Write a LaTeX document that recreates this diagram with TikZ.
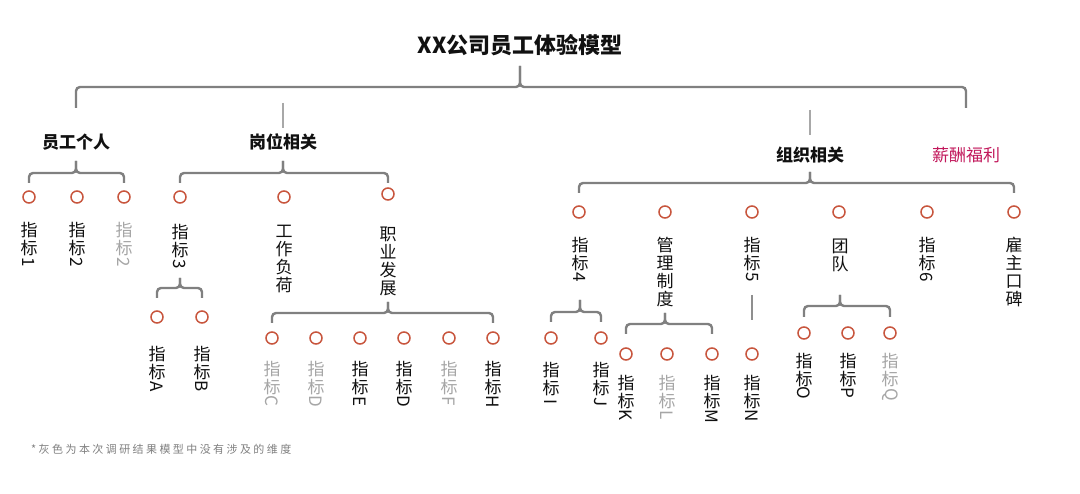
\documentclass[tikz,border=0pt]{standalone}
\usepackage{fontspec}
\usepackage{graphicx}
\setmainfont{Noto Sans CJK SC}
\newfontfamily\notefont[LetterSpace=22]{Noto Sans CJK SC}
\definecolor{circ}{HTML}{C8553D}
\definecolor{brgray}{HTML}{808080}
\definecolor{ltgray}{HTML}{A8A8A8}
\definecolor{txtgray}{HTML}{A6A6A6}
\definecolor{pay}{HTML}{C2185B}
\definecolor{ink}{HTML}{111111}
\newcommand{\rl}[1]{\raisebox{4pt}{\rotatebox[origin=c]{-90}{#1}}}
\newcommand{\zb}[1]{指\\标\\\rl{#1}}
\newcommand{\mybrace}[6]{%
  \draw[brace] (#2 |- 0,#6) |- (#1 |- 0,#4) -- (#1 |- 0,#5);
  \draw[brace] (#3 |- 0,#6) |- (#1 |- 0,#4) -- (#1 |- 0,#5);}
\tikzset{
  dot/.style={circle, draw=circ, line width=1.5pt, fill=white, minimum size=12pt, inner sep=0pt},
  brace/.style={draw=brgray, line width=2.4pt, rounded corners=4pt},
  head/.style={font=\fontsize{17}{20}\selectfont\bfseries, text=ink, inner sep=0pt},
  vlab/.style={font=\fontsize{17}{18}\selectfont, align=center, anchor=north, inner sep=0pt, text=ink},
  glab/.style={vlab, text=txtgray},
  sep/.style={draw=ltgray, line width=2.6pt},
}
\begin{document}
\begin{tikzpicture}[x=1pt,y=-1pt]
\fill[white] (0,0) rectangle (1080,494);
\useasboundingbox (0,0) rectangle (1080,494);

% title and headings
\node[font=\fontsize{22}{24}\selectfont\bfseries, text=ink, inner sep=0pt] (title) at (520,45) {XX公司员工体验模型};
\node[head] (hd1) at (76,142) {员工个人};
\node[head] (hd2) at (283,142) {岗位相关};
\node[head] (hd3) at (810,155) {组织相关};
\node[head, font=\fontsize{17}{20}\selectfont, text=pay] (hd4) at (966,155) {薪酬福利};

\mybrace{title}{hd1}{hd4}{87}{66}{108}
\draw[sep] (hd2 |- 0,103) -- (hd2 |- 0,128);
\draw[sep] (hd3 |- 0,110) -- (hd3 |- 0,135);

% level 2 circles
\node[dot] (a1) at (29,197) {};
\node[dot] (a2) at (77,197) {};
\node[dot] (a3) at (124,197) {};
\node[dot] (b1) at (180,197) {};
\node[dot] (b2) at (284,197) {};
\node[dot] (b3) at (388,194) {};
\node[dot] (d1) at (579,212) {};
\node[dot] (d2) at (665,212) {};
\node[dot] (d3) at (752,212) {};
\node[dot] (d4) at (839,212) {};
\node[dot] (d5) at (927,212) {};
\node[dot] (d6) at (1014,212) {};

\mybrace{hd1}{a1}{a3}{173}{161}{183}
\mybrace{hd2}{b1}{b3}{173}{161}{183}
\mybrace{hd3}{d1}{d6}{183}{172}{193}

% level 2 labels
\node[vlab] (la1) at (29,222) {\zb{1}};
\node[vlab] (la2) at (77,222) {\zb{2}};
\node[glab] (la3) at (124,222) {\zb{2}};
\node[vlab] (lb1) at (180,224) {\zb{3}};
\node[vlab] (lb2) at (284,225) {工\\作\\负\\荷};
\node[vlab] (lb3) at (388,227) {职\\业\\发\\展};
\node[vlab] (ld1) at (580,237) {\zb{4}};
\node[vlab] (ld2) at (665,237) {管\\理\\制\\度};
\node[vlab] (ld3) at (752,237) {\zb{5}};
\node[vlab] (ld4) at (840,239) {团\\队};
\node[vlab] (ld5) at (927,237) {\zb{6}};
\node[vlab] (ld6) at (1014,237) {雇\\主\\口\\碑};

% level 3 circles
\node[dot] (e1) at (157,317) {};
\node[dot] (e2) at (202,317) {};
\node[dot] (f1) at (272,338) {};
\node[dot] (f2) at (316,338) {};
\node[dot] (f3) at (360,338) {};
\node[dot] (f4) at (404,338) {};
\node[dot] (f5) at (449,338) {};
\node[dot] (f6) at (493,338) {};
\node[dot] (g1) at (551,338) {};
\node[dot] (g2) at (601,338) {};
\node[dot] (k1) at (626,354) {};
\node[dot] (k2) at (667,354) {};
\node[dot] (k3) at (712,354) {};
\node[dot] (n1) at (752,354) {};
\node[dot] (o1) at (804,333) {};
\node[dot] (o2) at (848,333) {};
\node[dot] (o3) at (890,333) {};

\mybrace{lb1}{e1}{e2}{288}{278}{298}
\mybrace{lb3}{f1}{f6}{313}{302}{323}
\mybrace{ld1}{g1}{g2}{312}{300}{322}
\mybrace{ld2}{k1}{k3}{324}{313}{334}
\draw[brace, draw=ltgray!85!black] (n1 |- 0,295) -- (n1 |- 0,320);
\mybrace{ld4}{o1}{o3}{306}{295}{317}

% level 3 labels
\node[vlab] (le1) at (157,346) {\zb{A}};
\node[vlab] (le2) at (202,346) {\zb{B}};
\node[glab] (lf1) at (272,361) {\zb{C}};
\node[glab] (lf2) at (316,361) {\zb{D}};
\node[vlab] (lf3) at (360,361) {\zb{E}};
\node[vlab] (lf4) at (404,361) {\zb{D}};
\node[glab] (lf5) at (449,361) {\zb{F}};
\node[vlab] (lf6) at (493,361) {\zb{H}};
\node[vlab] (lg1) at (551,362) {\zb{I}};
\node[vlab] (lg2) at (601,362) {\zb{J}};
\node[vlab] (lk1) at (626,375) {\zb{K}};
\node[glab] (lk2) at (667,375) {\zb{L}};
\node[vlab] (lk3) at (712,375) {\zb{M}};
\node[vlab] (ln1) at (752,375) {\zb{N}};
\node[vlab] (lo1) at (804,353) {\zb{O}};
\node[vlab] (lo2) at (848,353) {\zb{P}};
\node[glab] (lo3) at (890,353) {\zb{Q}};

% footnote
\node[anchor=west, font=\notefont\fontsize{11}{12}\selectfont, text=black!50, inner sep=0pt] (note) at (31,449) {*灰色为本次调研结果模型中没有涉及的维度};
\end{tikzpicture}
\end{document}
